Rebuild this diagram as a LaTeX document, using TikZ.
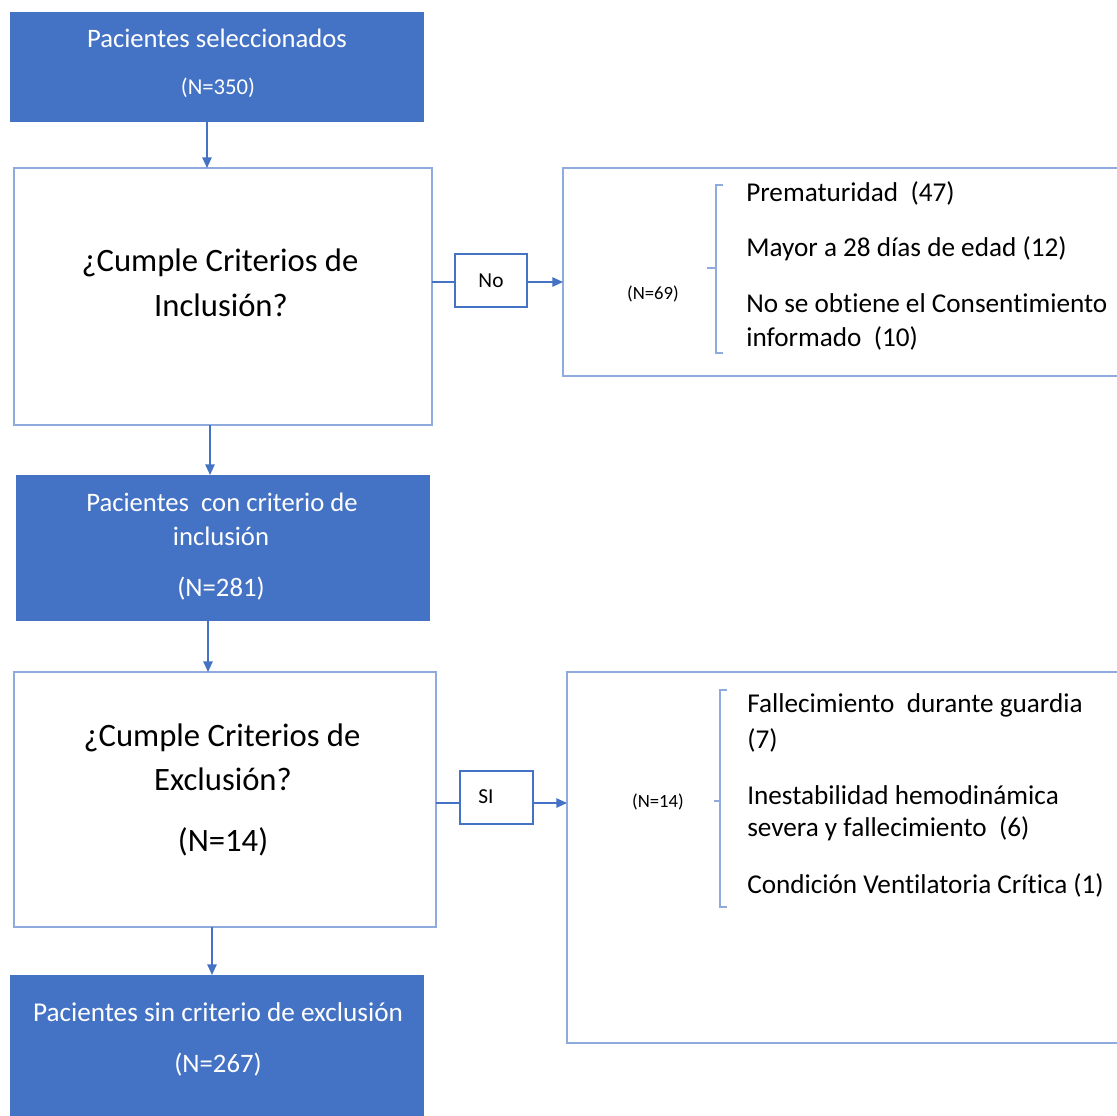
\documentclass[tikz,border=0pt]{standalone}
\usepackage{fontspec}
\setmainfont{Carlito}[Ligatures=NoCommon]
\usetikzlibrary{arrows.meta}
\definecolor{fillblue}{HTML}{4472C4}
\definecolor{lineblue}{HTML}{4472C4}
\definecolor{edgeblue}{HTML}{8FAADC}
\tikzset{
  fillbox/.style={draw=fillblue, fill=fillblue, line width=0.75pt, inner sep=0pt, outer sep=0pt},
  outbox/.style={draw=edgeblue, line width=1.4pt, inner sep=0pt, outer sep=0pt},
  smallbox/.style={draw=lineblue, line width=1.1pt, inner sep=0pt, outer sep=0pt},
  arr/.style={draw=lineblue, line width=1.3pt, -{Triangle[length=8pt,width=7pt]}},
  conn/.style={draw=lineblue, line width=1.3pt},
  brk/.style={draw=edgeblue, line width=1.2pt},
  wtxt/.style={text=white, inner sep=0pt, font=\fontsize{20pt}{23pt}\selectfont},
  wsmall/.style={text=white, inner sep=0pt, font=\fontsize{17pt}{20pt}\selectfont},
  bigtxt/.style={inner sep=0pt, font=\fontsize{24.5pt}{28pt}\selectfont},
  itemtxt/.style={inner sep=0pt, anchor=west, font=\fontsize{20.4pt}{23pt}\selectfont},
  ntxt/.style={inner sep=0pt, font=\fontsize{14pt}{16pt}\selectfont},
  lbltxt/.style={font=\fontsize{16pt}{19pt}\selectfont},
}
\begin{document}
\begin{tikzpicture}[x=0.75pt,y=-0.75pt]
\useasboundingbox (0,0) rectangle (1117,1115);
\clip (0,0) rectangle (1117,1115);
\fill[white] (0,0) rectangle (1117,1115);

% Box 1
\node[fillbox, minimum width=309.75pt, minimum height=81.75pt] (b1) at (216.5,66.5) {};
\node[wtxt] (t1a) at (217,38) {Pacientes seleccionados};
\node[wsmall] (t1b) at (218,88) {(N=350)};

% Box 2
\node[outbox, minimum width=313.5pt, minimum height=192.75pt] (b2) at (223,296.5) {};
\node[bigtxt] (t2a) at (220,263) {¿Cumple Criterios de};
\node[bigtxt] (t2b) at (221,305) {Inclusión?};

% No box
\node[smallbox, minimum width=54pt, minimum height=39.75pt, lbltxt] (no) at (491,280.5) {No};

% Box 3
\node[outbox, minimum width=435pt, minimum height=156pt] (b3) at (853,272) {};
\node[ntxt] (n69) at (653,294) {(N=69)};
\draw[brk] (723,185) -- (716,185) -- (716,353) -- (723,353);
\draw[brk] (716,268) -- (707,268);
\node[itemtxt] (i1) at (746,193) {Prematuridad \ (47)};
\node[itemtxt] (i2) at (746,249) {Mayor a 28 días de edad (12)};
\node[itemtxt] (i3) at (746,303) {No se obtiene el Consentimiento};
\node[itemtxt] (i4) at (746,338) {informado \ (10)};

% Box 4
\node[fillbox, minimum width=309.75pt, minimum height=108.75pt] (b4) at (222.5,547.5) {};
\node[wtxt] (t4a) at (222,502) {Pacientes \ con criterio de};
\node[wtxt] (t4b) at (221,536) {inclusión};
\node[wtxt] (t4c) at (221,589) {(N=281)};

% Box 5
\node[outbox, minimum width=316.5pt, minimum height=191.25pt] (b5) at (225,799.5) {};
\node[bigtxt] (t5a) at (222,738) {¿Cumple Criterios de};
\node[bigtxt] (t5b) at (223,779) {Exclusión?};
\node[bigtxt] (t5c) at (223,842) {(N=14)};

% SI box
\node[smallbox, minimum width=54.75pt, minimum height=39.75pt] (si) at (496.5,797.5) {};
\node[lbltxt, inner sep=0pt] (sit) at (486,797) {SI};

% Box 6
\node[outbox, minimum width=422.25pt, minimum height=278.25pt] (b6) at (848.5,857.5) {};
\node[ntxt] (n14) at (658,802) {(N=14)};
\draw[brk] (727,690) -- (720,690) -- (720,907) -- (727,907);
\draw[brk] (720,801) -- (714,801);
\node[itemtxt] (j1) at (747,705) {Fallecimiento \ durante guardia};
\node[itemtxt] (j2) at (747,740) {(7)};
\node[itemtxt] (j3) at (747,795) {Inestabilidad hemodinámica};
\node[itemtxt] (j4) at (747,829) {severa y fallecimiento \ (6)};
\node[itemtxt] (j5) at (747,885) {Condición Ventilatoria Crítica (1)};

% Box 7
\node[fillbox, minimum width=309.75pt, minimum height=116.25pt] (b7) at (216.5,1052.5) {};
\node[wtxt, font=\fontsize{20.4pt}{23pt}\selectfont] (t7a) at (218,1012) {Pacientes sin criterio de exclusión};
\node[wtxt] (t7b) at (218,1065) {(N=267)};

% connectors
\coordinate (x1) at (207,0);
\coordinate (x2) at (210,0);
\coordinate (x3) at (208,0);
\coordinate (x4) at (212,0);
\draw[arr] (b1.south -| x1) -- (b2.north -| x1);
\draw[arr] (b2.south -| x2) -- (b4.north -| x2);
\draw[arr] (b4.south -| x3) -- (b5.north -| x3);
\draw[arr] (b5.south -| x4) -- (b7.north -| x4);
\coordinate (y1) at (0,282);
\draw[conn] (b2.east |- y1) -- (no.west |- y1);
\draw[arr] (no.east |- y1) -- (b3.west |- y1);
\coordinate (y2) at (0,803);
\draw[conn] (b5.east |- y2) -- (si.west |- y2);
\draw[arr] (si.east |- y2) -- (b6.west |- y2);
\end{tikzpicture}
\end{document}
